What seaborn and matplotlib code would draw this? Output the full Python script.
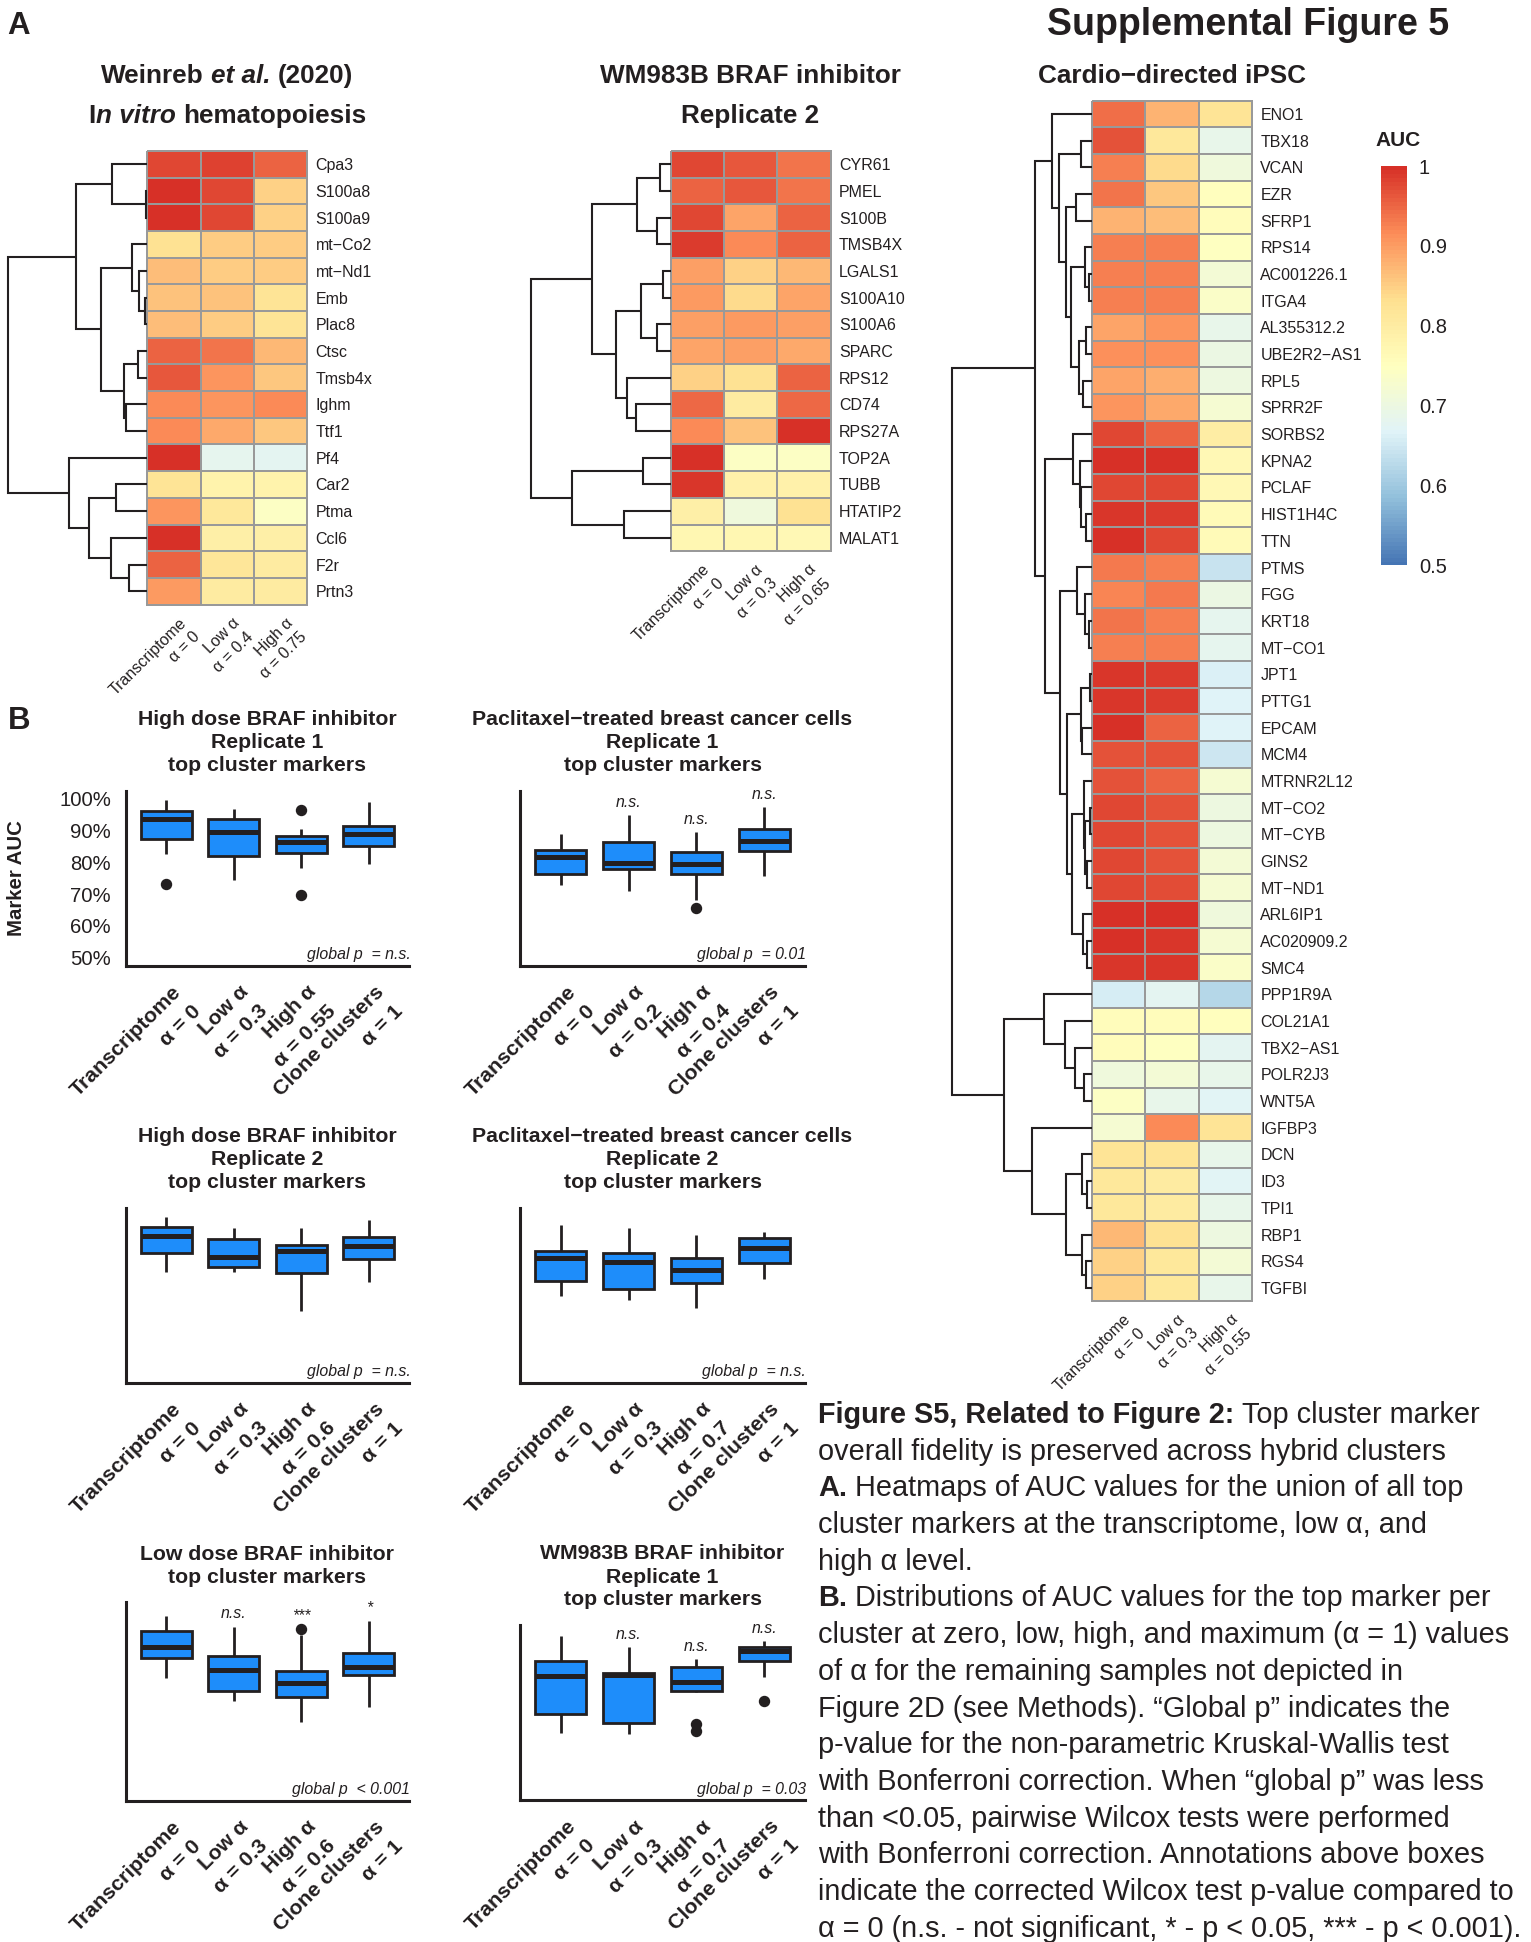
import numpy as np
import pandas as pd
import matplotlib
matplotlib.use("Agg")
import matplotlib.pyplot as plt
import matplotlib.transforms as mtransforms
from matplotlib.colors import LinearSegmentedColormap
import seaborn as sns

# ============================ DATA ============================
# --- Heatmap 1: Weinreb et al. (2020) in vitro hematopoiesis ---
H1_GENES = ["Cpa3", "S100a8", "S100a9", "mt\u2212Co2", "mt\u2212Nd1", "Emb", "Plac8", "Ctsc",
            "Tmsb4x", "Ighm", "Ttf1", "Pf4", "Car2", "Ptma", "Ccl6", "F2r", "Prtn3"]
H1_T = [0.975, 1.0, 1.0, 0.83, 0.865, 0.86, 0.865, 0.955, 0.962, 0.915, 0.915, 1.0, 0.825, 0.905, 1.0, 0.955, 0.90]
H1_L = [0.98, 0.975, 0.975, 0.85, 0.85, 0.86, 0.85, 0.935, 0.905, 0.905, 0.885, 0.68, 0.78, 0.81, 0.79, 0.82, 0.80]
H1_H = [0.955, 0.845, 0.845, 0.85, 0.85, 0.825, 0.825, 0.87, 0.855, 0.915, 0.855, 0.675, 0.78, 0.74, 0.79, 0.80, 0.80]
H1_COLS = ["Transcriptome\n\u03b1 = 0", "Low \u03b1\n\u03b1 = 0.4", "High \u03b1\n\u03b1 = 0.75"]
# dendrogram: (left, right, merge height); leaves are row indices
H1_TREE = (((0, (1, 2, 1.7), 35.3),
            ((3, (4, (5, 6, 2.7), 8.7), 15.3), ((7, 8, 9.7), (9, 10, 21.3), 23.7), 46.3),
            71.0),
           (11, ((12, 13, 31.0), (14, (15, 16, 18.7), 36.0), 58.0), 78.0),
           139.7)

# --- Heatmap 2: WM983B BRAF inhibitor replicate 2 ---
H2_GENES = ["CYR61", "PMEL", "S100B", "TMSB4X", "LGALS1", "S100A10", "S100A6", "SPARC",
            "RPS12", "CD74", "RPS27A", "TOP2A", "TUBB", "HTATIP2", "MALAT1"]
H2_T = [0.978, 0.953, 0.978, 0.985, 0.895, 0.90, 0.895, 0.89, 0.845, 0.95, 0.915, 1.0, 0.99, 0.79, 0.77]
H2_L = [0.962, 0.962, 0.89, 0.915, 0.845, 0.835, 0.90, 0.895, 0.83, 0.80, 0.86, 0.74, 0.785, 0.71, 0.77]
H2_H = [0.935, 0.935, 0.955, 0.955, 0.87, 0.89, 0.895, 0.885, 0.952, 0.95, 1.0, 0.74, 0.785, 0.83, 0.765]
H2_COLS = ["Transcriptome\n\u03b1 = 0", "Low \u03b1\n\u03b1 = 0.3", "High \u03b1\n\u03b1 = 0.65"]
H2_TREE = ((((0, 1, 10.7), (2, 3, 14.0), 33.3),
            (((4, 5, 7.3), (6, 7, 13.3), 30.0), (8, (9, 10, 35.0), 43.3), 54.7),
            79.0),
           ((11, 12, 28.0), (13, 14, 46.7), 98.3),
           140.0)

# --- Heatmap 3: Cardio-directed iPSC ---
H3_GENES = ["ENO1", "TBX18", "VCAN", "EZR", "SFRP1", "RPS14", "AC001226.1", "ITGA4", "AL355312.2",
            "UBE2R2\u2212AS1", "RPL5", "SPRR2F", "SORBS2", "KPNA2", "PCLAF", "HIST1H4C", "TTN", "PTMS",
            "FGG", "KRT18", "MT\u2212CO1", "JPT1", "PTTG1", "EPCAM", "MCM4", "MTRNR2L12", "MT\u2212CO2",
            "MT\u2212CYB", "GINS2", "MT\u2212ND1", "ARL6IP1", "AC020909.2", "SMC4", "PPP1R9A", "COL21A1",
            "TBX2\u2212AS1", "POLR2J3", "WNT5A", "IGFBP3", "DCN", "ID3", "TPI1", "RBP1", "RGS4", "TGFBI"]
H3_T = [0.945, 0.966, 0.925, 0.935, 0.875, 0.928, 0.928, 0.928, 0.89, 0.91, 0.89, 0.905, 0.978, 1.0,
        0.978, 0.99, 0.997, 0.933, 0.92, 0.94, 0.928, 0.99, 0.99, 0.997, 0.966, 0.966, 0.978, 0.978,
        0.978, 0.978, 1.0, 1.0, 0.99, 0.655, 0.755, 0.755, 0.71, 0.74, 0.725, 0.825, 0.815, 0.81,
        0.87, 0.845, 0.845]
H3_L = [0.875, 0.81, 0.835, 0.855, 0.865, 0.928, 0.928, 0.928, 0.905, 0.91, 0.88, 0.885, 0.953, 1.0,
        0.978, 0.986, 0.978, 0.926, 0.933, 0.928, 0.928, 0.986, 0.986, 0.953, 0.966, 0.953, 0.966,
        0.966, 0.966, 0.97, 1.0, 0.99, 0.99, 0.675, 0.755, 0.745, 0.72, 0.69, 0.915, 0.825, 0.80,
        0.80, 0.83, 0.815, 0.815]
H3_H = [0.825, 0.69, 0.71, 0.75, 0.755, 0.745, 0.72, 0.735, 0.69, 0.70, 0.705, 0.725, 0.795, 0.765,
        0.765, 0.76, 0.76, 0.64, 0.70, 0.68, 0.68, 0.66, 0.665, 0.665, 0.645, 0.725, 0.705, 0.705,
        0.72, 0.725, 0.71, 0.725, 0.735, 0.62, 0.75, 0.675, 0.69, 0.67, 0.825, 0.69, 0.67, 0.69,
        0.705, 0.72, 0.69]
H3_COLS = ["Transcriptome\n\u03b1 = 0", "Low \u03b1\n\u03b1 = 0.3", "High \u03b1\n\u03b1 = 0.55"]
H3_TREE = (
    ((0, ((1, 2, 10.7),
          ((3, 4, 15.7),
           ((5, (6, 7, 3.3), 6.7), ((8, 9, 5.7), (10, 11, 9.0), 13.0), 21.3),
           25.7),
          33.3), 40.0),
     ((12, (13, (14, (15, 16, 5.7), 10.7), 12.3), 19.0),
      ((17, (18, (19, 20, 3.3), 6.7), 14.7),
       (((21, 22, 1.7), (23, 24, 9.7), 11.3),
        ((25, ((26, 27, 1.7), (28, 29, 4.7), 6.7), 8.3), (30, (31, 32, 4.7), 9.0), 20.0),
        24.7),
       32.3),
      47.0),
     57.3),
    ((33, (34, (35, (36, 37, 8.3), 17.3), 27.3), 48.0),
     (38, ((39, (40, 41, 4.7), 9.7), (42, (43, 44, 5.7), 9.7), 25.7), 60.0),
     88.3),
    140.0)

CB_TICKS = [0.5, 0.6, 0.7, 0.8, 0.9, 1.0]
CB_LABELS = ["0.5", "0.6", "0.7", "0.8", "0.9", "1"]

# --- Box panels (AUC %): each box = [low whisker, Q1, median, Q3, high whisker] ---
HD1_STATS = [[82.7, 87.4, 93.7, 96.3, 99.7], [74.5, 82.0, 89.5, 93.7, 96.8],
             [78.2, 83.0, 86.4, 88.2, 90.6], [79.4, 85.3, 89.0, 91.6, 99.0]]
HD1_OUT = [[73.2], [], [96.6, 69.9], []]
PX1_STATS = [[73.0, 76.5, 81.7, 83.9, 89.1], [71.1, 78.0, 79.9, 86.3, 95.1],
             [68.1, 76.3, 79.4, 83.3, 89.6], [75.7, 83.6, 86.9, 90.4, 97.4]]
PX1_OUT = [[], [], [65.7], []]
HD2_STATS = [[82.5, 88.2, 93.7, 96.6, 99.8], [82.5, 83.8, 87.0, 92.6, 96.1],
             [70.2, 82.1, 89.0, 90.9, 96.1], [79.1, 86.6, 90.5, 93.3, 98.7]]
HD2_OUT = [[], [], [], []]
PX2_STATS = [[74.9, 79.6, 86.7, 89.1, 97.0], [73.6, 77.0, 85.4, 88.2, 96.1],
             [71.1, 78.8, 83.0, 86.9, 94.1], [80.0, 85.3, 89.8, 92.9, 95.1]]
PX2_OUT = [[], [], [], []]
LD_STATS = [[81.4, 86.9, 90.1, 94.6, 98.7], [75.1, 78.0, 83.7, 87.6, 95.5],
            [69.4, 76.3, 80.0, 83.4, 93.5], [73.5, 82.3, 84.6, 88.5, 97.3]]
LD_OUT = [[], [], [95.0], []]
WM1_STATS = [[68.6, 74.5, 86.6, 91.4, 99.2], [68.3, 71.9, 87.0, 87.4, 95.6],
             [81.5, 81.9, 84.8, 89.3, 91.8], [86.4, 91.4, 94.5, 95.8, 97.6]]
WM1_OUT = [[], [], [71.4, 69.2], [78.8]]

Y_TICKS = [50, 60, 70, 80, 90, 100]
Y_TICKLABELS = ["50%", "60%", "70%", "80%", "90%", "100%"]

def alpha_labels(lo, hi):
    return ["Transcriptome\n\u03b1 = 0", "Low \u03b1\n\u03b1 = " + lo,
            "High \u03b1\n\u03b1 = " + hi, "Clone clusters\n\u03b1 = 1"]

HD1_X = alpha_labels("0.3", "0.55")
PX1_X = alpha_labels("0.2", "0.4")
HD2_X = alpha_labels("0.3", "0.6")
PX2_X = alpha_labels("0.3", "0.7")
LD_X = alpha_labels("0.3", "0.6")
WM1_X = alpha_labels("0.3", "0.7")

CAPTION = [
    ("Figure S5, Related to Figure 2:", " Top cluster marker"),
    ("", "overall fidelity is preserved across hybrid clusters"),
    ("A.", " Heatmaps of AUC values for the union of all top"),
    ("", "cluster markers at the transcriptome, low \u03b1, and"),
    ("", "high \u03b1 level."),
    ("B.", " Distributions of AUC values for the top marker per"),
    ("", "cluster at zero, low, high, and maximum (\u03b1 = 1) values"),
    ("", "of \u03b1 for the remaining samples not depicted in"),
    ("", "Figure 2D (see Methods). \u201cGlobal p\u201d indicates the"),
    ("", "p-value for the non-parametric Kruskal-Wallis test"),
    ("", "with Bonferroni correction. When \u201cglobal p\u201d was less"),
    ("", "than <0.05, pairwise Wilcox tests were performed"),
    ("", "with Bonferroni correction. Annotations above boxes"),
    ("", "indicate the corrected Wilcox test p-value compared to"),
    ("", "\u03b1 = 0 (n.s. - not significant, * - p < 0.05, *** - p < 0.001)."),
]

# ============================ STYLE ============================
sns.set_style("white")
plt.rcParams["font.family"] = ["Liberation Sans", "DejaVu Sans"]
DARK = "#231F20"
BLUE = "#1E8DFA"
plt.rcParams["text.color"] = DARK
CMAP = LinearSegmentedColormap.from_list(
    "pheat", ["#4575B4", "#91BFDB", "#E0F3F8", "#FFFFBF", "#FEE090", "#FC8D59", "#D73027"], N=100)

W, H = 1531, 1942
PT = 0.72  # points per pixel at 100 dpi
fig = plt.figure(figsize=(W / 100, H / 100), dpi=100)
fig.patch.set_facecolor("white")
renderer = fig.canvas.get_renderer()


def px_axes(x0, y0, x1, y1):
    return fig.add_axes([x0 / W, 1 - y1 / H, (x1 - x0) / W, (y1 - y0) / H])


def text_width(s, **kw):
    t1 = fig.text(0, 0, "|" + s + "|", **kw)
    t2 = fig.text(0, 0, "||", **kw)
    w = t1.get_window_extent(renderer).width - t2.get_window_extent(renderer).width
    t1.remove()
    t2.remove()
    return w


def mixed_text(x, y, segs, size, ha="left"):
    kws = [dict(fontsize=size, fontweight=wt, fontstyle=st) for _, wt, st in segs]
    widths = [text_width(s, **kw) for (s, _, _), kw in zip(segs, kws)]
    cur = x - sum(widths) / 2 if ha == "center" else x
    for (s, _, _), kw, w in zip(segs, kws, widths):
        lead = len(s) - len(s.lstrip(" "))
        off = text_width(" " * lead, **kw) if lead else 0.0
        if s.strip(" "):
            fig.text((cur + off) / W, 1 - y / H, s.strip(" "), ha="left", va="baseline",
                     color=DARK, **kw)
        cur += w


def rot_label(ax, x, y, lines, dx, dy, pitch, **kw):
    for k, line in enumerate(lines):
        ox = dx + k * pitch * 0.7071
        oy = -(dy + k * pitch * 0.7071)
        tr = mtransforms.offset_copy(ax.transData, fig=fig, x=ox * PT, y=oy * PT, units="points")
        ax.text(x, y, line, transform=tr, rotation=45, rotation_mode="anchor", ha="right",
                va="baseline", color=DARK, clip_on=False, **kw)


def draw_tree(ax, node):
    if isinstance(node, int):
        return node + 0.5, 0.0
    left, right, hgt = node
    yl, hl = draw_tree(ax, left)
    yr, hr = draw_tree(ax, right)
    ax.plot([hl, hgt, hgt, hr], [yl, yl, yr, yr], color=DARK, lw=1.5,
            solid_joinstyle="miter", solid_capstyle="butt", clip_on=False)
    return (yl + yr) / 2, hgt


CW, RH = 53.33, 26.68


def heatmap_block(x0, y0, genes, t, l, h, col_labels, tree, cbar_ax=None):
    n = len(genes)
    ax = px_axes(x0, y0, x0 + 3 * CW, y0 + n * RH)
    df = pd.DataFrame({"T": t, "L": l, "H": h}, index=genes)
    sns.heatmap(df, ax=ax, cmap=CMAP, vmin=0.5, vmax=1.0, linewidths=1.4, linecolor="#999999",
                cbar=cbar_ax is not None, cbar_ax=cbar_ax, xticklabels=False, yticklabels=genes)
    ax.collections[0].set_clip_on(False)
    ax.yaxis.tick_right()
    ax.tick_params(axis="y", length=0, pad=6, labelsize=11.5, labelcolor=DARK)
    plt.setp(ax.get_yticklabels(), rotation=0)
    ax.set_xlabel("")
    ax.set_ylabel("")
    for j, lab in enumerate(col_labels):
        rot_label(ax, j + 0.5, n, lab.split("\n"), 13, 19, 20, fontsize=11.5)
    root_h = tree[2]
    dax = px_axes(x0 - root_h, y0, x0, y0 + n * RH)
    dax.set_xlim(root_h, 0)
    dax.set_ylim(n, 0)
    dax.axis("off")
    draw_tree(dax, tree)
    return ax


# ============================ HEATMAPS ============================
heatmap_block(147.3, 151.0, H1_GENES, H1_T, H1_L, H1_H, H1_COLS, H1_TREE)
heatmap_block(670.7, 151.0, H2_GENES, H2_T, H2_L, H2_H, H2_COLS, H2_TREE)
cax = px_axes(1381, 166, 1407, 565.5)
ax3 = heatmap_block(1092.0, 100.6, H3_GENES, H3_T, H3_L, H3_H, H3_COLS, H3_TREE, cbar_ax=cax)
cb = ax3.collections[0].colorbar
cb.set_ticks(CB_TICKS)
cb.set_ticklabels(CB_LABELS)
cb.outline.set_visible(False)
cax.tick_params(length=0, labelsize=14.5, pad=8.6, labelcolor=DARK)
fig.text(1375 / W, 1 - 146 / H, "AUC", fontsize=15, fontweight="bold", ha="left", va="baseline")

B, I, N = "bold", "italic", "normal"
mixed_text(227.3, 83, [("Weinreb ", B, N), ("et al.", B, I), (" (2020)", B, N)], 18.8, ha="center")
mixed_text(227.3, 123.3, [("I", B, N), ("n vitro", B, I), (" hematopoiesis", B, N)], 18.8, ha="center")
mixed_text(750.3, 82.7, [("WM983B BRAF inhibitor", B, N)], 18.8, ha="center")
mixed_text(750.3, 123, [("Replicate 2", B, N)], 18.8, ha="center")
mixed_text(1172.3, 83.4, [("Cardio\u2212directed iPSC", B, N)], 18.8, ha="center")

fig.text(1248 / W, 1 - 35 / H, "Supplemental Figure 5", fontsize=27, fontweight="bold",
         ha="center", va="baseline")
fig.text(7.5 / W, 1 - 34.5 / H, "A", fontsize=22.5, fontweight="bold", ha="left", va="baseline")
fig.text(7.5 / W, 1 - 729 / H, "B", fontsize=22.5, fontweight="bold", ha="left", va="baseline")


# ============================ BOX PANELS ============================
def box_panel(rect, stats, outs, xlabels, titles, title_base, gp, annots, show_y):
    ax = px_axes(*rect)
    bst = [dict(whislo=s[0], q1=s[1], med=s[2], q3=s[3], whishi=s[4], fliers=o)
           for s, o in zip(stats, outs)]
    ax.bxp(bst, positions=range(len(bst)), widths=0.75, patch_artist=True, showcaps=False,
           boxprops=dict(facecolor=BLUE, edgecolor=DARK, linewidth=2.0),
           medianprops=dict(color=DARK, linewidth=3.6, solid_capstyle="butt"),
           whiskerprops=dict(color=DARK, linewidth=2.0, solid_capstyle="butt"),
           flierprops=dict(marker="o", markerfacecolor=DARK, markeredgecolor=DARK, markersize=7.2))
    ax.set_xlim(-0.6, 3.6)
    ax.set_ylim(47.5, 102.5)
    ax.set_facecolor("none")
    for side in ["top", "right"]:
        ax.spines[side].set_visible(False)
    for side in ["left", "bottom"]:
        ax.spines[side].set_linewidth(2.2)
        ax.spines[side].set_color(DARK)
    ax.set_xticks(range(4))
    ax.set_xticklabels([])
    ax.set_yticks(Y_TICKS)
    ax.set_yticklabels(Y_TICKLABELS if show_y else [])
    ax.tick_params(axis="both", direction="out", length=5, width=2.0, color=DARK)
    ax.tick_params(axis="y", labelsize=14.6, labelcolor=DARK, pad=5.5)
    for i, lab in enumerate(xlabels):
        rot_label(ax, i, 47.5, lab.split("\n"), 16, 27, 27, fontsize=15.3, fontweight="bold")
    cx = (rect[0] + rect[2]) / 2
    for t, yb in zip(titles, title_base):
        fig.text(cx / W, 1 - yb / H, t, fontsize=15.3, fontweight="bold", ha="center", va="baseline")
    tr = mtransforms.offset_copy(ax.transAxes, fig=fig, x=1 * PT, y=6.5 * PT, units="points")
    ax.text(1.0, 0.0, gp, transform=tr, ha="right", va="baseline", fontsize=11.4, fontstyle="italic")
    for i, a in enumerate(annots):
        if a:
            top = max([stats[i][4]] + list(outs[i]))
            ax.text(i, top + 2.5, a, ha="center", va="baseline", fontsize=11.4, fontstyle="italic")
    return ax


box_panel((125.7, 791, 409.3, 965.7), HD1_STATS, HD1_OUT, HD1_X,
          ["High dose BRAF inhibitor", "Replicate 1", "top cluster markers"], [725, 747.7, 770.7],
          "global p  = n.s.", [None, None, None, None], True)
box_panel((520, 791, 805, 965.7), PX1_STATS, PX1_OUT, PX1_X,
          ["Paclitaxel\u2212treated breast cancer cells", "Replicate 1", "top cluster markers"],
          [725, 747.7, 770.7], "global p  = 0.01", [None, "n.s.", "n.s.", "n.s."], False)
box_panel((125.7, 1208, 409.3, 1382.7), HD2_STATS, HD2_OUT, HD2_X,
          ["High dose BRAF inhibitor", "Replicate 2", "top cluster markers"], [1142.3, 1165, 1188.3],
          "global p  = n.s.", [None, None, None, None], False)
box_panel((520, 1208, 805, 1382.7), PX2_STATS, PX2_OUT, PX2_X,
          ["Paclitaxel\u2212treated breast cancer cells", "Replicate 2", "top cluster markers"],
          [1142.3, 1165, 1188.3], "global p  = n.s.", [None, None, None, None], False)
box_panel((125.7, 1602, 409.3, 1800.7), LD_STATS, LD_OUT, LD_X,
          ["Low dose BRAF inhibitor", "top cluster markers"], [1560, 1582.7],
          "global p  < 0.001", [None, "n.s.", "***", "*"], False)
box_panel((520, 1625.4, 805, 1800.3), WM1_STATS, WM1_OUT, WM1_X,
          ["WM983B BRAF inhibitor", "Replicate 1", "top cluster markers"], [1559.3, 1582.7, 1605],
          "global p  = 0.03", [None, "n.s.", "n.s.", "n.s."], False)

fig.text(16.7 / W, 1 - 878 / H, "Marker AUC", rotation=90, fontsize=14.7, fontweight="bold",
         ha="center", va="center")

# ============================ CAPTION ============================
for k, (bold, rest) in enumerate(CAPTION):
    segs = []
    if bold:
        segs.append((bold, "bold", "normal"))
    segs.append((rest, "normal", "normal"))
    mixed_text(818, 1423 + 36.7 * k, segs, 20.8)

fig.savefig("out.png", dpi=100, facecolor="white")
